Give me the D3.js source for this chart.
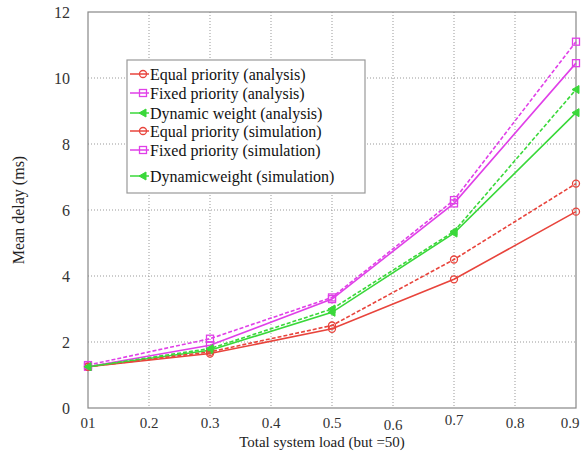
<!DOCTYPE html>
<html>
<head>
<meta charset="utf-8">
<script src="https://cdn.jsdelivr.net/npm/d3@7"></script>
<style>
  body { margin: 0; background: #fff; }
</style>
</head>
<body>
<div id="root"></div>
<script>
const loads = [0.1, 0.3, 0.5, 0.7, 0.9]
const equalAnalysis = [1.25, 1.65, 2.4, 3.9, 5.95]
const fixedAnalysis = [1.25, 1.9, 3.3, 6.2, 10.45]
const dynamicAnalysis = [1.25, 1.75, 2.9, 5.3, 8.95]
const equalSim = [1.25, 1.7, 2.5, 4.5, 6.8]
const fixedSim = [1.3, 2.1, 3.35, 6.3, 11.1]
const dynamicSim = [1.25, 1.8, 3.0, 5.35, 9.65]
const xTicks = [0.1, 0.2, 0.3, 0.4, 0.5, 0.6, 0.7, 0.8, 0.9]
const xTickLabels = ["01", "0.2", "0.3", "0.4", "0.5", "0.6", "0.7", "0.8", "0.9"]
const yTicks = [0, 2, 4, 6, 8, 10, 12]

const series = [
  { name: "Equal priority  (analysis)", values: equalAnalysis, color: "#e8443c", marker: "circle", dash: null },
  { name: "Fixed priority  (analysis)", values: fixedAnalysis, color: "#e040e8", marker: "square", dash: null },
  { name: "Dynamic weight (analysis)", values: dynamicAnalysis, color: "#3ad83a", marker: "triangle", dash: null },
  { name: "Equal priority (simulation)", values: equalSim, color: "#e8443c", marker: "circle", dash: "4,2" },
  { name: "Fixed priority (simulation)", values: fixedSim, color: "#e040e8", marker: "square", dash: "4,2" },
  { name: "Dynamicweight (simulation)", values: dynamicSim, color: "#3ad83a", marker: "triangle", dash: "4,2" },
]

const FONT = "'Liberation Serif', 'DejaVu Serif', serif"

const width = 584, height = 469
const margin = { top: 12, right: 8, bottom: 61, left: 88 }
const boundedWidth = width - margin.left - margin.right
const boundedHeight = height - margin.top - margin.bottom

const svg = d3.select("#root").append("svg")
  .attr("width", width)
  .attr("height", height)
  .style("font-family", FONT)

const bounds = svg.append("g")
  .attr("transform", `translate(${margin.left},${margin.top})`)

const xScale = d3.scaleLinear().domain([0.1, 0.9]).range([0, boundedWidth])
const yScale = d3.scaleLinear().domain([0, 12]).range([boundedHeight, 0])

// grid
bounds.append("g").selectAll("line")
  .data(xTicks.slice(1, -1))
  .join("line")
  .attr("x1", d => xScale(d)).attr("x2", d => xScale(d))
  .attr("y1", 0).attr("y2", boundedHeight)
  .attr("stroke", "#999").attr("stroke-dasharray", "1,2")
bounds.append("g").selectAll("line")
  .data(yTicks.slice(1, -1))
  .join("line")
  .attr("x1", 0).attr("x2", boundedWidth)
  .attr("y1", d => yScale(d)).attr("y2", d => yScale(d))
  .attr("stroke", "#999").attr("stroke-dasharray", "1,2")

bounds.append("rect")
  .attr("width", boundedWidth).attr("height", boundedHeight)
  .attr("fill", "none").attr("stroke", "#888").attr("stroke-width", 1.2)

// tick labels
const xLabelShift = [0, 0, 0, 0, 0, 2, -3, 0, 0]
bounds.append("g").selectAll("text")
  .data(xTicks)
  .join("text")
  .attr("x", (d, i) => xScale(d) + (i === 8 ? -6 : 0))
  .attr("y", (d, i) => boundedHeight + 20 + xLabelShift[i])
  .attr("text-anchor", "middle")
  .attr("fill", "#333")
  .style("font-size", "15px")
  .text((d, i) => xTickLabels[i])

bounds.append("g").selectAll("text")
  .data(yTicks)
  .join("text")
  .attr("x", -18)
  .attr("y", d => yScale(d) + 6)
  .attr("text-anchor", "end")
  .attr("fill", "#333")
  .style("font-size", "16px")
  .text(d => d)

svg.append("text")
  .attr("x", margin.left + boundedWidth / 2 - 10)
  .attr("y", 447)
  .attr("text-anchor", "middle")
  .attr("fill", "#222")
  .style("font-size", "15px")
  .text("Total system load  (but =50)")

svg.append("text")
  .attr("transform", `translate(24,${margin.top + boundedHeight / 2}) rotate(-90)`)
  .attr("text-anchor", "middle")
  .attr("fill", "#222")
  .style("font-size", "16px")
  .text("Mean delay (ms)")

// markers
function drawMarker(g, type, color, x, y) {
  if (type === "circle") {
    g.append("circle").attr("cx", x).attr("cy", y).attr("r", 3.5)
      .attr("fill", "none").attr("stroke", color).attr("stroke-width", 1.3)
  } else if (type === "square") {
    g.append("rect").attr("x", x - 3.5).attr("y", y - 3.5).attr("width", 7).attr("height", 7)
      .attr("fill", "none").attr("stroke", color).attr("stroke-width", 1.3)
  } else {
    g.append("path").attr("d", `M${x - 4},${y} L${x + 3},${y - 4} L${x + 3},${y + 4} Z`)
      .attr("fill", color).attr("stroke", color).attr("stroke-width", 1)
  }
}

const lineGen = d3.line()
  .x(d => xScale(d[0]))
  .y(d => yScale(d[1]))

series.forEach(s => {
  const pts = loads.map((l, i) => [l, s.values[i]])
  bounds.append("path")
    .datum(pts)
    .attr("d", lineGen)
    .attr("fill", "none")
    .attr("stroke", s.color)
    .attr("stroke-width", 1.6)
    .attr("stroke-dasharray", s.dash)
  const mg = bounds.append("g")
  pts.forEach(p => drawMarker(mg, s.marker, s.color, xScale(p[0]), yScale(p[1])))
})

// legend
const legend = svg.append("g").attr("transform", "translate(127,60)")
legend.append("rect")
  .attr("width", 238).attr("height", 133)
  .attr("fill", "#fff").attr("stroke", "#999").attr("stroke-width", 1.2)
const rowY = [14, 33, 53, 71, 90, 116]
series.forEach((s, i) => {
  const y = rowY[i]
  legend.append("line")
    .attr("x1", 3).attr("x2", 22).attr("y1", y).attr("y2", y)
    .attr("stroke", s.color).attr("stroke-width", 1.5)
  drawMarker(legend, s.marker, s.color, 16, y)
  legend.append("text")
    .attr("x", 23).attr("y", y + 6)
    .attr("fill", "#111")
    .style("font-size", "16px")
    .text(s.name)
})
</script>
</body>
</html>
